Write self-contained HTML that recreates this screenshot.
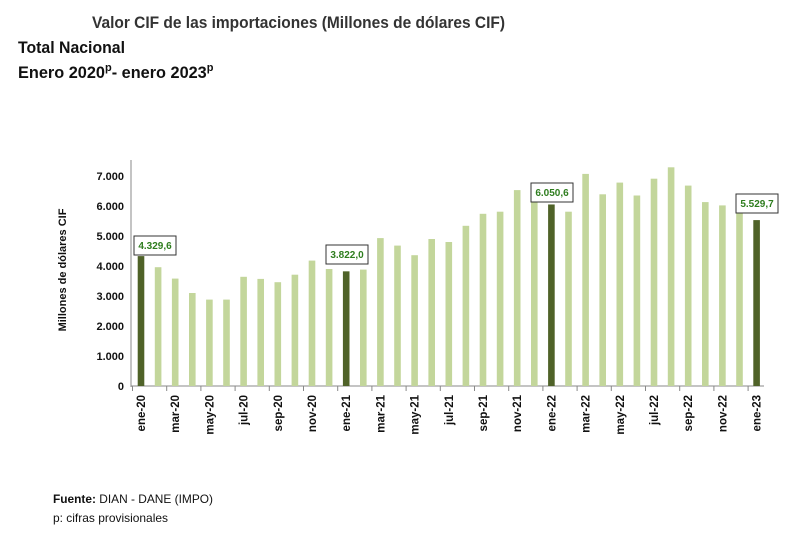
<!DOCTYPE html>
<html><head><meta charset="utf-8"><style>
body{margin:0;background:#fff;width:800px;height:533px;overflow:hidden}
svg text{font-family:"Liberation Sans",sans-serif}
</style></head><body>
<svg width="800" height="533" xmlns="http://www.w3.org/2000/svg">
<text x="92" y="28" font-size="17" font-weight="bold" fill="#333" textLength="413" lengthAdjust="spacingAndGlyphs">Valor CIF de las importaciones (Millones de dólares CIF)</text>
<text x="18" y="53" font-size="17" font-weight="bold" fill="#111" textLength="107" lengthAdjust="spacingAndGlyphs">Total Nacional</text>
<text x="18" y="78" font-size="17" font-weight="bold" fill="#111"><tspan textLength="87" lengthAdjust="spacingAndGlyphs">Enero 2020</tspan><tspan font-size="11" dy="-7">p</tspan><tspan dy="7" textLength="95" lengthAdjust="spacingAndGlyphs">- enero 2023</tspan><tspan font-size="11" dy="-7">p</tspan></text>
<text transform="translate(66,270) rotate(-90)" text-anchor="middle" font-size="11" font-weight="bold" fill="#111">Millones de dólares CIF</text>
<g font-size="11" font-weight="bold" fill="#111" text-anchor="end">
<text x="124" y="390">0</text><text x="124" y="360">1.000</text><text x="124" y="330">2.000</text><text x="124" y="300">3.000</text><text x="124" y="270">4.000</text><text x="124" y="240">5.000</text><text x="124" y="210">6.000</text><text x="124" y="180">7.000</text>
</g>
<line x1="131" y1="160" x2="131" y2="387" stroke="#888"/>
<line x1="131" y1="386" x2="764" y2="386" stroke="#888"/>
<g id="bars"></g>
<g id="ticks"></g>
<g id="labs" font-size="11.5" font-weight="bold" fill="#111"></g>
<g font-size="10" font-weight="bold" fill="#2e7d1e">
<rect x="134" y="236" width="42" height="19" fill="#fff" stroke="#333"/><text x="155" y="249" text-anchor="middle">4.329,6</text>
<rect x="326" y="245" width="42" height="19" fill="#fff" stroke="#333"/><text x="347" y="258" text-anchor="middle">3.822,0</text>
<rect x="531" y="183" width="42" height="19" fill="#fff" stroke="#333"/><text x="552" y="196" text-anchor="middle">6.050,6</text>
<rect x="736" y="194" width="42" height="19" fill="#fff" stroke="#333"/><text x="757" y="207" text-anchor="middle">5.529,7</text>
</g>
<text x="53" y="503" font-size="12" fill="#111" textLength="160" lengthAdjust="spacingAndGlyphs"><tspan font-weight="bold">Fuente:</tspan> DIAN - DANE (IMPO)</text>
<text x="53" y="522" font-size="12" fill="#111" textLength="115" lengthAdjust="spacingAndGlyphs">p: cifras provisionales</text>
</svg>
<script>
var v=[4330,3960,3580,3100,2880,2880,3640,3570,3460,3710,4180,3900,3822,3880,4930,4680,4360,4900,4800,5340,5740,5810,6530,6160,6051,5810,7070,6390,6780,6350,6910,7290,6680,6130,6020,5810,5530];
var m=["ene","mar","may","jul","sep","nov"];
var ns="http://www.w3.org/2000/svg",b=document.getElementById("bars"),t=document.getElementById("ticks"),l=document.getElementById("labs");
function el(p,n,a,tx){var e=document.createElementNS(ns,n);for(var k in a)e.setAttribute(k,a[k]);if(tx)e.textContent=tx;p.appendChild(e);}
for(var i=0;i<37;i++){var c=141+i*17.1,h=v[i]*0.03,d=i%12==0;
el(b,"rect",{x:c-3.3,y:386-h,width:6.6,height:h,fill:d?"#4f6228":"#c3d69b"});
if(i%2==0){var yr=20+Math.floor(i/12);el(l,"text",{transform:"translate("+(c+4)+",395) rotate(-90)","text-anchor":"end"},m[(i%12)/2]+"-"+yr);
el(t,"line",{x1:c-8.5,y1:386,x2:c-8.5,y2:391,stroke:"#888"});}}
</script>
</body></html>
